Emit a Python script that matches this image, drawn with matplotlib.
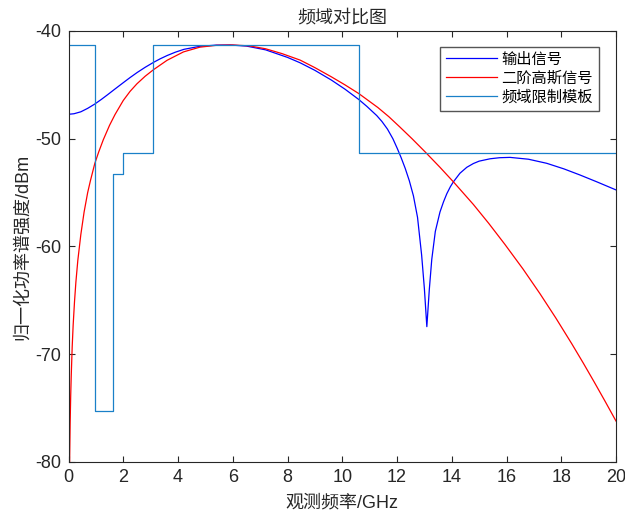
import matplotlib
matplotlib.use('Agg')
import matplotlib.pyplot as plt

# -----------------------------------------------------------------------
# Data (frequency in GHz, level in dBm)
# -----------------------------------------------------------------------
out_freq = [0, 0.2, 0.45, 0.7, 0.96, 1.2, 1.42, 1.7, 2.03, 2.25, 2.51, 2.8,
            3.10, 3.35, 3.61, 3.9, 4.22, 4.8, 5.4, 5.9, 6.5, 7.2, 8.0, 8.46,
            9.0, 9.6, 10.1, 10.6, 10.9, 11.26, 11.45, 11.65, 11.85, 12.01,
            12.15, 12.3, 12.45, 12.6, 12.75, 12.9, 13.0, 13.09, 13.18, 13.27,
            13.4, 13.57, 13.7, 13.82, 13.95, 14.06, 14.30, 14.55, 14.79, 15.0,
            15.4, 15.75, 16.13, 16.8, 17.47, 18.1, 18.68, 19.3, 20.0]
out_level = [-47.73, -47.68, -47.5, -47.18, -46.78, -46.35, -45.93, -45.38,
             -44.74, -44.32, -43.85, -43.37, -42.92, -42.58, -42.27, -41.97,
             -41.7, -41.42, -41.31, -41.3, -41.4, -41.75, -42.45, -42.95,
             -43.65, -44.55, -45.4, -46.35, -47.0, -47.85, -48.4, -49.1,
             -50.0, -50.9, -51.75, -52.75, -53.9, -55.3, -57.3, -60.8,
             -63.9, -67.44, -64.0, -61.2, -58.6, -56.8, -55.85, -55.1,
             -54.45, -54.0, -53.2, -52.65, -52.3, -52.08, -51.86, -51.76,
             -51.73, -51.9, -52.28, -52.8, -53.36, -54.0, -54.75]

gauss_freq = [0.04, 0.06, 0.08, 0.1, 0.135, 0.17, 0.22, 0.27, 0.34, 0.45,
              0.57, 0.7, 0.8, 0.96, 1.1, 1.27, 1.5, 1.7, 2.0, 2.25, 2.5, 2.8,
              3.1, 3.6, 4.2, 4.8, 5.4, 6.0, 6.6, 7.2, 7.8, 8.46, 9.0, 9.6,
              10.1, 10.6, 11.3, 11.7, 12.1, 12.55, 13.02, 13.57, 14.06, 14.79,
              15.35, 15.94, 16.6, 17.22, 17.8, 18.38, 18.8, 19.2, 19.6, 20.0]
gauss_level = [-80, -76.4, -73.9, -72.0, -69.3, -67.3, -65.1, -63.3, -61.3,
               -58.9, -56.8, -55.0, -53.9, -52.3, -51.25, -50.1, -48.75,
               -47.75, -46.45, -45.6, -44.9, -44.2, -43.6, -42.72, -41.94,
               -41.5, -41.33, -41.3, -41.38, -41.65, -42.1, -42.7, -43.4,
               -44.25, -45.0, -45.8, -47.1, -47.95, -48.9, -50.0, -51.2,
               -52.65, -54.0, -56.1, -57.85, -59.8, -62.08, -64.37, -66.63,
               -69.01, -70.8, -72.56, -74.36, -76.2]

# spectral mask: level holds from each break frequency to the next
mask_freq = [0, 0.96, 1.61, 1.99, 3.1, 10.6, 20]
mask_level = [-41.3, -75.3, -53.3, -51.3, -41.3, -51.3, -51.3]

series_names = ['输出信号', '二阶高斯信号', '频域限制模板']
x_ticks = list(range(0, 21, 2))
y_ticks = [-80, -70, -60, -50, -40]

# -----------------------------------------------------------------------
# Plot
# -----------------------------------------------------------------------
plt.rcParams['font.family'] = ['Liberation Sans', 'Noto Sans CJK SC']
plt.rcParams['axes.unicode_minus'] = False
ink = '#262626'

fig = plt.figure(figsize=(6.25, 5.14), dpi=100)
ax = fig.add_axes([0.1096, 0.1012, 0.876, 0.8385])

ax.plot(out_freq, out_level, color='#0000ff', linewidth=0.9, label=series_names[0])
ax.plot(gauss_freq, gauss_level, color='#ff0000', linewidth=0.9, label=series_names[1])
ax.step(mask_freq, mask_level, where='post', color='#1a80c8', linewidth=0.9,
        label=series_names[2])

ax.set_xlim(0, 20)
ax.set_ylim(-80, -40)
ax.set_xticks(x_ticks)
ax.set_yticks(y_ticks)
ax.tick_params(direction='in', length=4, width=0.8, top=True, right=True,
               labelsize=13, colors=ink, pad=5)
for spine in ax.spines.values():
    spine.set_color(ink)
    spine.set_linewidth(0.8)

ax.set_title('频域对比图', fontsize=13, color=ink, pad=6)
ax.set_xlabel('观测频率/GHz', fontsize=13, color=ink, labelpad=6)
ax.set_ylabel('归一化功率谱强度/dBm', fontsize=13, color=ink, labelpad=3)

leg = ax.legend(loc='upper right', bbox_to_anchor=(0.969, 0.9636), borderaxespad=0,
                fontsize=11, handlelength=3.3, handletextpad=0.3, labelspacing=0.3,
                fancybox=False, framealpha=1, edgecolor='#555555', borderpad=0.4)
leg.get_frame().set_linewidth(1.0)

fig.savefig('out.png', dpi=100)
